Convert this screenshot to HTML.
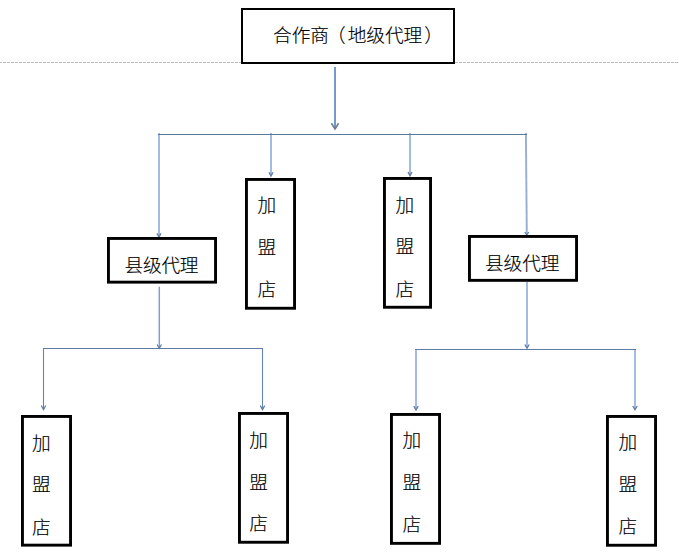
<!DOCTYPE html>
<html lang="zh-CN">
<head>
<meta charset="utf-8">
<title>合作商代理结构图</title>
<style>
html,body{margin:0;padding:0;background:#fff;}
body{width:679px;height:560px;overflow:hidden;position:relative;}
svg{position:absolute;left:0;top:0;display:block;}
text{font-family:"Liberation Sans", "Noto Sans CJK SC", sans-serif;font-size:18.67px;font-weight:300;fill:#000;stroke:#000;stroke-width:0.15px;}
.bx{fill:#fff;stroke:#000;}
.ah{fill:none;stroke-linejoin:miter;}
</style>
</head>
<body>
<svg width="679" height="560" viewBox="0 0 679 560">
<rect x="0" y="0" width="679" height="560" fill="#ffffff"/>
<!-- page guide (dashed) -->
<rect x="0" y="62" width="679" height="1" fill="#f3f3f3" shape-rendering="crispEdges"/>
<line x1="-1" y1="62.5" x2="679" y2="62.5" stroke="#bdbdbd" stroke-width="1" stroke-dasharray="3 1" shape-rendering="crispEdges"/>
<!-- connectors -->
<line x1="335" y1="67" x2="335" y2="128.2" stroke="#7499cf" stroke-width="2"/>
<path class="ah" d="M331.4 123.3 L335 129 L338.6 123.3" stroke="#737d8c" stroke-width="1.6"/>
<line x1="159" y1="133" x2="159" y2="236.2" stroke="#a3bce0" stroke-width="2"/>
<path class="ah" d="M156.9 233.4 L159 237 L161.1 233.4" stroke="#5f7ba6" stroke-width="1.2"/>
<line x1="271" y1="133" x2="271" y2="175.3" stroke="#a3bce0" stroke-width="2"/>
<path class="ah" d="M269 172.3 L271 176.1 L273 172.3" stroke="#5f7ba6" stroke-width="1.3"/>
<line x1="410" y1="133" x2="410" y2="175" stroke="#a3bce0" stroke-width="2"/>
<path class="ah" d="M408 172 L410 175.8 L412 172" stroke="#5f7ba6" stroke-width="1.3"/>
<line x1="525.9" y1="133" x2="526.8" y2="234.2" stroke="#96aed4" stroke-width="1.9"/>
<path class="ah" d="M524.8 232 L526.8 235 L528.8 232" stroke="#5f7ba6" stroke-width="1.2"/>
<line x1="159.3" y1="286.7" x2="159.3" y2="347.5" stroke="#7f9fcf" stroke-width="1.5"/>
<path class="ah" d="M157.1 344.5 L159.3 348.3 L161.5 344.5" stroke="#5f7ba6" stroke-width="1.2"/>
<line x1="527" y1="282" x2="527" y2="347.5" stroke="#a3bce0" stroke-width="2"/>
<path class="ah" d="M524.8 344.5 L527 348.3 L529.2 344.5" stroke="#5f7ba6" stroke-width="1.3"/>
<line x1="43.5" y1="348" x2="43.5" y2="408.9" stroke="#6384b8" stroke-width="1.1"/>
<path class="ah" d="M41.3 405.5 L43.5 409.7 L45.7 405.5" stroke="#5f7ba6" stroke-width="1.2"/>
<line x1="262.5" y1="348" x2="262.5" y2="409" stroke="#6384b8" stroke-width="1.1"/>
<path class="ah" d="M260.3 405.6 L262.5 409.8 L264.7 405.6" stroke="#5f7ba6" stroke-width="1.2"/>
<line x1="416" y1="349" x2="416" y2="409.2" stroke="#a3bce0" stroke-width="2"/>
<path class="ah" d="M413.8 406.2 L416 410 L418.2 406.2" stroke="#5f7ba6" stroke-width="1.3"/>
<line x1="635" y1="349" x2="635" y2="409" stroke="#a3bce0" stroke-width="2"/>
<path class="ah" d="M632.8 406 L635 409.8 L637.2 406" stroke="#5f7ba6" stroke-width="1.3"/>
<rect x="158" y="134" width="369" height="1" fill="#5b7899" shape-rendering="crispEdges"/>
<rect x="43" y="348" width="220" height="1" fill="#5d7ba6" shape-rendering="crispEdges"/>
<rect x="415" y="349" width="221" height="1" fill="#5d7ba6" shape-rendering="crispEdges"/>
<!-- boxes -->
<rect class="bx" x="242" y="9" width="212" height="54" stroke-width="2"/>
<rect class="bx" x="246.45" y="179.45" width="48.1" height="128.8" stroke-width="2.9"/>
<rect class="bx" x="384.45" y="178.45" width="46.1" height="128.8" stroke-width="2.9"/>
<rect class="bx" x="108.45" y="238.45" width="107.1" height="43.7" stroke-width="2.9"/>
<rect class="bx" x="469.45" y="236.45" width="107.1" height="43.9" stroke-width="2.9"/>
<rect class="bx" x="22.45" y="416.45" width="48.1" height="128.7" stroke-width="2.9"/>
<rect class="bx" x="239.45" y="413.45" width="48.1" height="128.8" stroke-width="2.9"/>
<rect class="bx" x="391.45" y="414.45" width="48.1" height="128.9" stroke-width="2.9"/>
<rect class="bx" x="607.45" y="416.45" width="48.1" height="128.8" stroke-width="2.9"/>
<!-- labels -->
<text x="273" y="42">合作商<tspan dx="-1.9">（</tspan><tspan dx="1.9">地级代理</tspan><tspan dx="1.9">）</tspan></text>
<text x="124.6" y="271.9" letter-spacing="-0.25">县级代理</text>
<text x="485" y="270.1" letter-spacing="-0.08">县级代理</text>
<text x="257.4" y="211.8">加</text>
<text x="257.4" y="253.5">盟</text>
<text x="257.4" y="296">店</text>
<text x="395.4" y="211.8">加</text>
<text x="395.4" y="252.6">盟</text>
<text x="395.4" y="295.5">店</text>
<text x="32" y="450">加</text>
<text x="32" y="491.2">盟</text>
<text x="32" y="533.8">店</text>
<text x="249.3" y="447">加</text>
<text x="249.3" y="489.3">盟</text>
<text x="249.3" y="530.2">店</text>
<text x="402.4" y="447">加</text>
<text x="402.4" y="489.3">盟</text>
<text x="402.4" y="531.2">店</text>
<text x="618.4" y="449">加</text>
<text x="618.4" y="490.7">盟</text>
<text x="618.4" y="532.8">店</text>
</svg>
</body>
</html>
